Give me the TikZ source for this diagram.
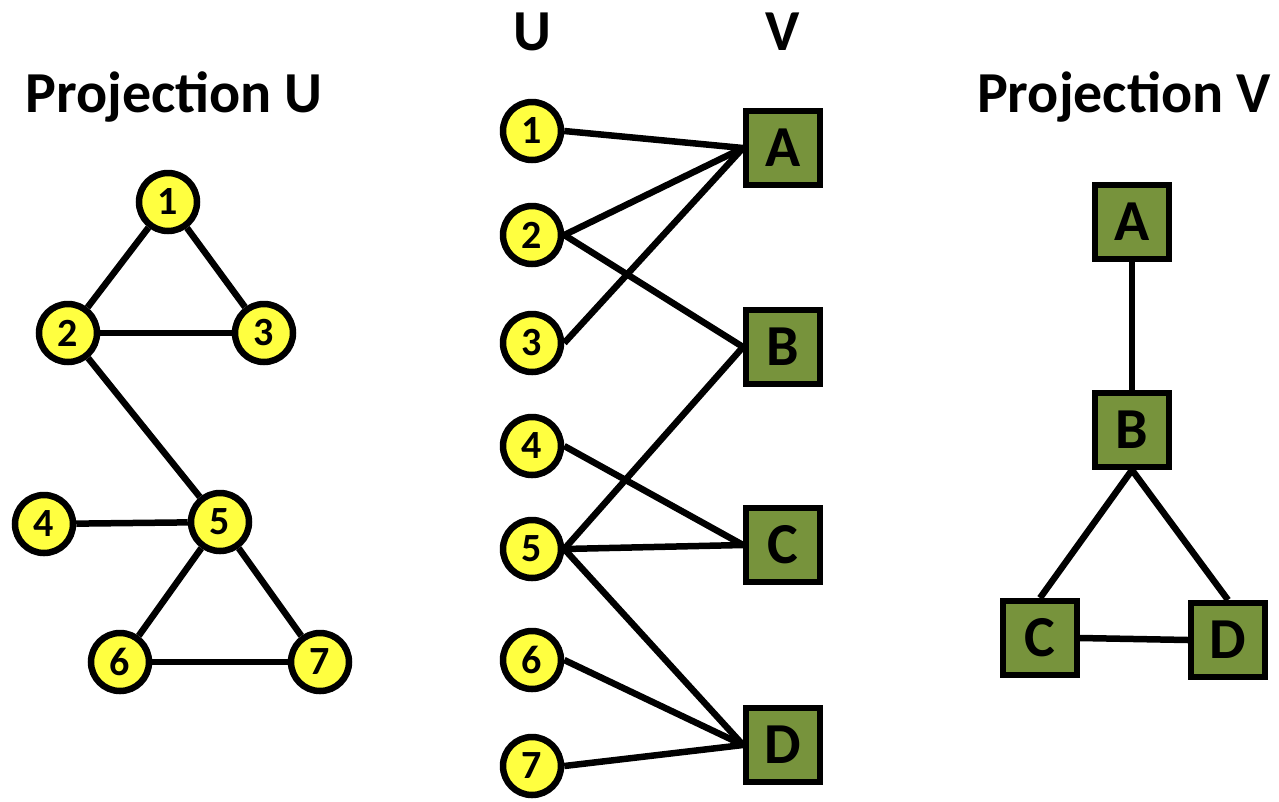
\documentclass[tikz,border=0pt]{standalone}
\usepackage{fontspec}
\setmainfont{Carlito}
\definecolor{ylw}{HTML}{FFFF40}
\definecolor{olv}{HTML}{77933C}
\begin{document}
\begin{tikzpicture}[x=1pt,y=-1pt,
  unode/.style={circle,draw=black,line width=6.5pt,fill=ylw,minimum size=58pt,inner sep=0pt,font=\fontsize{40}{44}\selectfont\bfseries},
  vnode/.style={rectangle,draw=black,line width=6pt,fill=olv,minimum size=74pt,inner sep=0pt,font=\fontsize{58}{62}\selectfont\bfseries},
  title/.style={font=\fontsize{58}{62}\selectfont\bfseries},
  edge/.style={line width=6.5pt,black}]
\useasboundingbox (0,0) rectangle (1279,801);
% titles
\node[title] (tU) at (174,97) {Projection U};
\node[title] (tV) at (1124,97) {Projection V};
\node[title] (hU) at (532,32) {U};
\node[title] (hV) at (783,32) {V};
% left projection
\node[unode] (l1) at (168,202) {1};
\node[unode] (l2) at (68,333) {2};
\node[unode] (l3) at (264,333) {3};
\node[unode] (l4) at (44,524) {4};
\node[unode] (l5) at (220,522) {5};
\node[unode] (l6) at (120,662) {6};
\node[unode] (l7) at (320,662) {7};
% middle
\node[unode] (u1) at (532,131) {1};
\node[unode] (u2) at (532,235) {2};
\node[unode] (u3) at (532,343) {3};
\node[unode] (u4) at (532,446) {4};
\node[unode] (u5) at (532,549) {5};
\node[unode] (u6) at (532,660) {6};
\node[unode] (u7) at (532,766) {7};
\node[vnode] (vA) at (783,148) {A};
\node[vnode] (vB) at (783,347) {B};
\node[vnode] (vC) at (783,545) {C};
\node[vnode] (vD) at (783,745) {D};
% right projection
\node[vnode] (rA) at (1132,222) {A};
\node[vnode] (rB) at (1132,430) {B};
\node[vnode] (rC) at (1040,638) {C};
\node[vnode] (rD) at (1228,640) {D};
% edges
\draw[edge] (l1) -- (l2);
\draw[edge] (l1) -- (l3);
\draw[edge] (l2) -- (l3);
\draw[edge] (l2) -- (l5);
\draw[edge] (l4) -- (l5);
\draw[edge] (l5) -- (l6);
\draw[edge] (l5) -- (l7);
\draw[edge] (l6) -- (l7);
\draw[edge] (u1.east) -- (vA.west);
\draw[edge] (u2.east) -- (vA.west);
\draw[edge] (u3.east) -- (vA.west);
\draw[edge] (u2.east) -- (vB.west);
\draw[edge] (u5.east) -- (vB.west);
\draw[edge] (u4.east) -- (vC.west);
\draw[edge] (u5.east) -- (vC.west);
\draw[edge] (u5.east) -- (vD.west);
\draw[edge] (u6.east) -- (vD.west);
\draw[edge] (u7.east) -- (vD.west);
\draw[edge] (rA.south) -- (rB.north);
\draw[edge] (rB.south) -- (rC.north);
\draw[edge] (rB.south) -- (rD.north);
\draw[edge] (rC.east) -- (rD.west);
\end{tikzpicture}
\end{document}
